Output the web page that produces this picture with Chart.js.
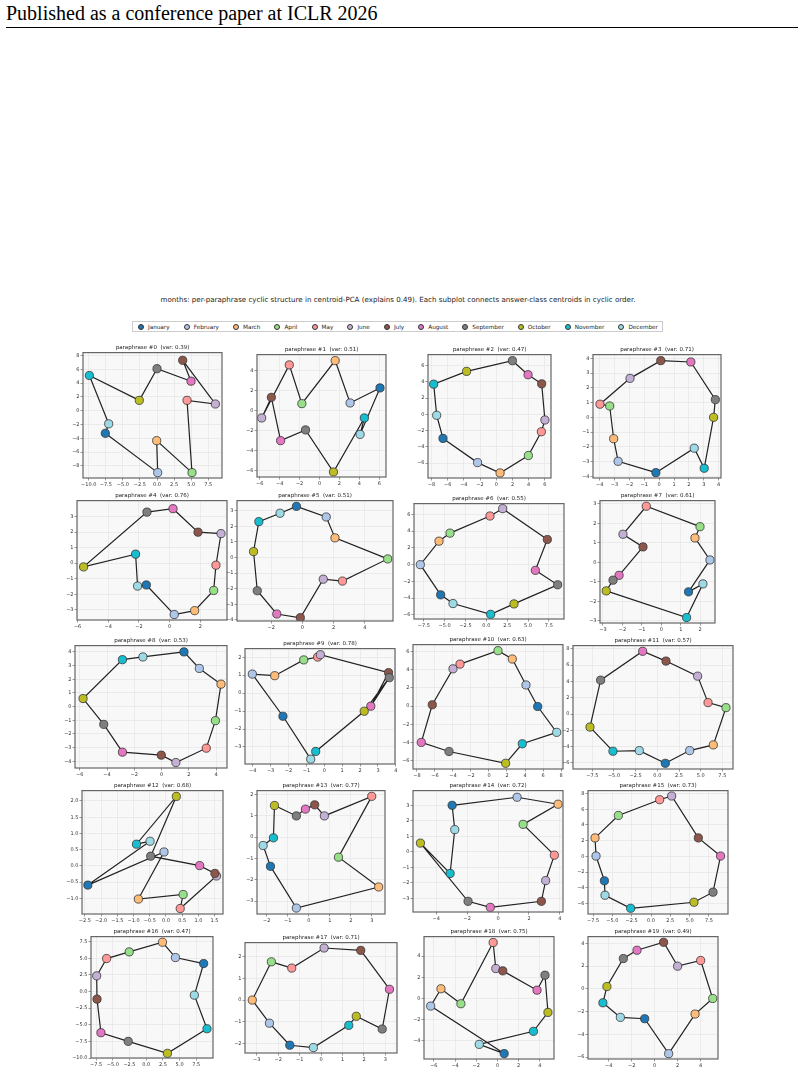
<!DOCTYPE html>
<html>
<head>
<meta charset="utf-8">
<script src="https://cdn.jsdelivr.net/npm/chart.js@4.4.1/dist/chart.umd.min.js"></script>
<style>
  body { margin: 0; width: 804px; height: 1074px; position: relative; background: #fff; overflow: hidden; font-family: "DejaVu Sans", sans-serif; }
  #hdr { position: absolute; left: 6px; top: 2px; font-family: "Liberation Serif", serif; font-size: 20px; color: #000; white-space: nowrap; }
  #rule { position: absolute; left: 6px; top: 27px; width: 792px; height: 1px; background: #000; }
  #suptitle { position: absolute; left: 0; width: 796px; top: 295px; text-align: center; font-size: 7.1px; color: #222; white-space: nowrap; }
  #legend { position: absolute; left: 132px; top: 321px; width: 531px; height: 11px; border: 1px solid #ccc; box-sizing: border-box;
            display: flex; align-items: center; justify-content: space-between; padding: 0 4px 0 5px; font-size: 5.7px; color: #222; }
  .li { display: flex; align-items: center; gap: 4px; white-space: nowrap; }
  .mk { width: 6px; height: 6px; border-radius: 50%; border: 0.7px solid #333; box-sizing: border-box; }
  canvas { position: absolute; }
</style>
</head>
<body>
<div id="hdr">Published as a conference paper at ICLR 2026</div>
<div id="rule"></div>
<div id="suptitle">months: per-paraphrase cyclic structure in centroid-PCA (explains 0.49). Each subplot connects answer-class centroids in cyclic order.</div>
<div id="legend"></div>
<script>
const months = ['January', 'February', 'March', 'April', 'May', 'June', 'July', 'August', 'September', 'October', 'November', 'December'];
const monthColors = ['#1f77b4', '#aec7e8', '#ffbb78', '#98df8a', '#ff9896', '#c5b0d5', '#8c564b', '#e377c2', '#7f7f7f', '#bcbd22', '#17becf', '#9edae5'];

const varExplained = [0.39, 0.51, 0.47, 0.71, 0.76, 0.51, 0.55, 0.61, 0.53, 0.78, 0.63, 0.57, 0.68, 0.77, 0.72, 0.73, 0.47, 0.71, 0.75, 0.49];

// centroid coordinates per paraphrase, January..December
const xVals = [
  [-7.56, 0.10, -0.05, 5.12, 4.39, 8.54, 3.76, 4.98, 0.00, -2.59, -9.90, -7.07],
  [6.07, 3.07, 1.57, -1.77, -3.03, -5.80, -4.83, -3.90, -1.40, 1.40, 4.50, 4.07],
  [-6.57, -2.31, 0.47, 3.96, 5.56, 6.00, 5.60, 3.92, 1.99, -3.66, -7.72, -7.35],
  [-0.22, -2.76, -3.06, -3.33, -3.98, -1.96, 0.11, 2.13, 3.78, 3.66, 3.03, 2.36],
  [-1.52, 0.30, 1.63, 2.87, 3.02, 3.35, 1.85, 0.22, -1.48, -5.61, -2.22, -2.09],
  [-0.38, 1.53, 2.09, 5.47, 2.57, 1.34, -0.13, -1.64, -2.89, -3.13, -2.79, -1.43],
  [-5.48, -7.92, -5.68, -4.36, 0.44, 1.96, 7.32, 5.88, 8.56, 3.32, 0.52, -4.00],
  [1.40, 2.50, 1.73, 1.99, -0.77, -1.97, -0.94, -2.17, -2.48, -2.83, 1.30, 2.14],
  [1.64, 2.77, 4.36, 3.95, 3.28, 1.05, -0.02, -2.87, -4.24, -5.76, -2.87, -1.37],
  [-2.31, -4.02, -2.77, -1.15, -0.37, -0.22, 3.59, 2.60, 3.63, 2.23, -0.48, -0.76],
  [5.41, 4.11, 2.59, 1.00, -3.22, -4.00, -6.30, -7.52, -4.44, 1.85, 3.70, 7.52],
  [0.92, 3.73, 6.46, 7.92, 5.85, 4.65, 1.00, -1.69, -6.54, -7.77, -5.12, -2.08],
  [-2.41, -0.06, -0.85, 0.53, 0.44, 1.56, 1.51, 1.04, -0.47, 0.32, -0.91, -0.49],
  [-1.82, -0.59, 3.32, 1.41, 2.99, 0.74, 0.28, -0.16, -0.59, -1.63, -1.68, -2.17],
  [-2.97, 1.23, 3.88, 1.62, 3.64, 3.08, 2.80, -0.50, -1.94, -5.02, -3.10, -2.80],
  [-6.03, -7.11, -7.24, -4.22, 1.12, 2.67, 6.12, 9.00, 8.02, 5.56, -2.63, -5.95],
  [8.60, 4.38, 2.44, -2.54, -5.92, -7.41, -7.36, -6.77, -2.69, 3.18, 9.10, 7.21],
  [-1.46, -2.41, -3.21, -2.32, -1.37, 0.14, 1.85, 3.19, 2.85, 1.64, 1.29, -0.36],
  [0.63, -6.30, -5.33, -3.45, -0.41, -0.16, 0.50, 3.73, 4.48, 4.76, 3.39, -1.72],
  [-0.87, 1.22, 3.52, 5.06, 4.01, 2.00, 0.78, -1.54, -2.73, -4.16, -4.51, -2.99]
];
const yVals = [
  [-3.27, -8.98, -4.34, -8.98, 1.51, 0.98, 7.32, 4.29, 6.10, 1.51, 5.12, -1.90],
  [2.27, 0.77, 5.00, 0.70, 4.57, -0.73, 1.33, -3.00, -1.93, -6.13, -0.73, -2.37],
  [-2.96, -5.93, -7.20, -5.06, -2.14, -0.70, 3.74, 4.86, 6.58, 5.27, 3.70, -0.12],
  [-3.75, -2.98, -1.45, 0.77, 0.89, 2.64, 3.84, 3.75, 1.20, 0.00, -3.45, -2.09],
  [-1.40, -3.30, -3.05, -1.75, -0.13, 1.90, 1.99, 3.50, 3.28, -0.24, 0.58, -1.47],
  [3.28, 2.60, 1.26, -0.09, -1.51, -1.39, -3.86, -3.62, -2.13, 0.38, 2.30, 2.84],
  [-3.60, 0.00, 2.80, 3.76, 5.80, 6.68, 3.00, -0.68, -2.40, -4.68, -5.92, -4.64],
  [-1.52, 0.12, 1.25, 1.83, 2.88, 1.44, 0.79, -0.67, -0.92, -1.47, -2.84, -1.11],
  [4.00, 2.79, 1.64, -1.03, -3.04, -4.09, -3.55, -3.33, -1.30, 0.59, 3.43, 3.63],
  [-1.29, 1.06, 0.97, 1.85, 2.01, 2.14, 1.14, -0.73, 0.86, -1.01, -3.25, -3.68],
  [-0.04, 2.33, 5.19, 6.11, 4.63, 4.11, 0.15, -4.00, -5.00, -6.30, -4.15, -2.89],
  [-6.05, -4.49, -3.79, 0.78, 1.40, 4.65, 6.50, 7.70, 4.16, -1.60, -4.57, -4.49],
  [-0.59, 0.43, -1.02, -0.88, -1.31, -0.31, -0.23, 0.01, 0.30, 2.14, 0.67, 0.76],
  [-1.37, -3.33, -2.34, -0.94, 1.92, 1.00, 1.52, 1.32, 1.00, 1.49, -0.03, -0.39],
  [3.00, 3.52, 3.07, 1.77, -0.22, -1.86, -3.20, -3.59, -3.20, 0.56, -1.40, 1.43],
  [-3.12, 0.04, 2.35, 5.21, 7.22, 7.69, 2.35, 0.04, -4.57, -5.85, -6.62, -4.96],
  [4.20, 5.10, 7.40, 5.95, 4.95, 2.35, -1.15, -6.20, -7.50, -9.30, -5.60, -0.55],
  [-2.09, -1.07, 0.00, 1.77, 1.48, 2.41, 2.30, 0.50, -1.34, -0.75, -1.17, -2.20],
  [-5.20, -0.72, 0.91, -0.50, 5.27, 2.82, 2.60, 0.78, 2.19, -1.32, -3.10, -4.33],
  [-2.63, -5.70, -2.22, -0.85, 2.49, 1.99, 4.09, 3.39, 2.66, 0.20, -1.23, -2.51]
];

// tick labels per subplot
const xTicks = [
  [-10, -7.5, -5, -2.5, 0, 2.5, 5, 7.5], [-6, -4, -2, 0, 2, 4, 6], [-8, -6, -4, -2, 0, 2, 4, 6], [-4, -3, -2, -1, 0, 1, 2, 3, 4],
  [-6, -4, -2, 0, 2], [-2, 0, 2, 4], [-7.5, -5, -2.5, 0, 2.5, 5, 7.5], [-3, -2, -1, 0, 1, 2],
  [-6, -4, -2, 0, 2, 4], [-4, -3, -2, -1, 0, 1, 2, 3, 4], [-8, -6, -4, -2, 0, 2, 4, 6, 8], [-7.5, -5, -2.5, 0, 2.5, 5, 7.5],
  [-2.5, -2, -1.5, -1, -0.5, 0, 0.5, 1, 1.5], [-2, -1, 0, 1, 2, 3], [-4, -2, 0, 2, 4], [-7.5, -5, -2.5, 0, 2.5, 5, 7.5],
  [-7.5, -5, -2.5, 0, 2.5, 5, 7.5], [-3, -2, -1, 0, 1, 2, 3], [-6, -4, -2, 0, 2, 4], [-4, -2, 0, 2, 4]
];
const yTicks = [
  [-8, -6, -4, -2, 0, 2, 4, 6, 8], [-6, -4, -2, 0, 2, 4], [-6, -4, -2, 0, 2, 4, 6], [-4, -3, -2, -1, 0, 1, 2, 3, 4],
  [-3, -2, -1, 0, 1, 2, 3], [-4, -3, -2, -1, 0, 1, 2, 3], [-6, -4, -2, 0, 2, 4, 6], [-3, -2, -1, 0, 1, 2, 3],
  [-4, -3, -2, -1, 0, 1, 2, 3, 4], [-3, -2, -1, 0, 1, 2], [-6, -4, -2, 0, 2, 4, 6], [-6, -4, -2, 0, 2, 4, 6, 8],
  [-1, -0.5, 0, 0.5, 1, 1.5, 2], [-3, -2, -1, 0, 1, 2], [-3, -2, -1, 0, 1, 2, 3], [-6, -4, -2, 0, 2, 4, 6, 8],
  [-10, -7.5, -5, -2.5, 0, 2.5, 5, 7.5], [-2, -1, 0, 1, 2], [-4, -2, 0, 2, 4], [-6, -4, -2, 0, 2, 4]
];

// axis limits [xmin, xmax, ymin, ymax]
const limits = [
  [-10.83, 9.51, -9.76, 8.44], [-6.27, 6.67, -6.63, 5.6], [-8.42, 6.75, -7.82, 7.33], [-4.45, 4.16, -4.11, 4.25],
  [-6.04, 3.74, -3.65, 4.02], [-4.19, 5.81, -4.07, 3.65], [-8.68, 9.32, -6.48, 7.28], [-3.15, 2.76, -3.12, 3.17],
  [-6.35, 4.8, -4.49, 4.46], [-4.43, 3.95, -3.95, 2.48], [-8.44, 8.22, -6.93, 6.78], [-9.73, 8.73, -6.75, 8.4],
  [-2.59, 1.76, -1.48, 2.32], [-2.46, 3.62, -3.61, 2.19], [-5.5, 4.2, -3.89, 3.95], [-8.15, 9.96, -7.35, 8.38],
  [-8.26, 10.0, -10.0, 8.25], [-3.55, 3.54, -2.45, 2.66], [-6.93, 5.33, -5.71, 5.83], [-5.81, 5.52, -6.17, 4.59]
];

// plot-area boxes on the page [left, top, right, bottom]
const boxes = [
  [83, 353, 222, 478], [257, 355, 386, 477], [428, 355, 551, 478], [593, 355, 721, 478],
  [77, 501, 227, 620], [237, 501, 393, 621], [414, 504, 564, 619], [600, 501, 715, 623],
  [75, 646, 227, 768], [245, 649, 395, 764], [413, 645, 563, 769], [573, 646, 733, 769],
  [82, 791, 223, 914], [257, 791, 385, 914], [413, 791, 563, 912], [588, 791, 728, 914],
  [91, 937, 213, 1058], [245, 943, 397, 1053], [424, 937, 554, 1059], [588, 937, 718, 1059]
];

// legend
const legendEl = document.getElementById('legend');
months.forEach((m, i) => {
  const item = document.createElement('div');
  item.className = 'li';
  item.innerHTML = '<span class="mk" style="background:' + monthColors[i] + '"></span><span>' + m + '</span>';
  legendEl.appendChild(item);
});

const frame = {
  id: 'frame',
  beforeDraw(chart) {
    const a = chart.chartArea, ctx = chart.ctx;
    ctx.save();
    ctx.fillStyle = '#f8f8f8';
    ctx.fillRect(a.left, a.top, a.right - a.left, a.bottom - a.top);
    ctx.restore();
  },
  afterDraw(chart) {
    const a = chart.chartArea, ctx = chart.ctx;
    ctx.save();
    ctx.strokeStyle = '#666';
    ctx.lineWidth = 1.2;
    ctx.strokeRect(a.left, a.top, a.right - a.left, a.bottom - a.top);
    ctx.restore();
  }
};

function tickFormat(ticks) {
  const frac = ticks.some(v => !Number.isInteger(v));
  return v => (frac ? v.toFixed(1) : String(v)).replace('-', '\u2212');
}

const YW = 22, XH = 10, PR = 10;
const TITLE_SIZE = 5.5, TITLE_PAD = 2;
const titleH = TITLE_SIZE * 1.2 + TITLE_PAD;

const axisCommon = {
  type: 'linear',
  border: { display: false },
  grid: { color: '#e2e2e2', lineWidth: 0.6, tickLength: 2.5, tickColor: '#555', tickWidth: 0.6 },
  ticks: { font: { size: 5, family: 'DejaVu Sans' }, color: '#333', padding: 1, maxRotation: 0, autoSkip: false }
};

for (let i = 0; i < 20; i++) {
  const [bl, bt, br, bb] = boxes[i];
  const [x0, x1, y0, y1] = limits[i];
  const canvas = document.createElement('canvas');
  const top = Math.round(bt - titleH);
  canvas.width = (br - bl) + YW + PR;
  canvas.height = (bb - top) + XH;
  canvas.style.left = (bl - YW) + 'px';
  canvas.style.top = top + 'px';
  document.body.appendChild(canvas);

  const pts = xVals[i].map((x, k) => ({ x: x, y: yVals[i][k] }));
  const xt = xTicks[i], yt = yTicks[i];

  new Chart(canvas, {
    type: 'scatter',
    data: {
      datasets: [
        { data: pts, pointBackgroundColor: monthColors, pointBorderColor: '#333', pointBorderWidth: 0.8, pointRadius: 4.1, showLine: false, order: 0 },
        { data: pts.concat([pts[0]]), showLine: true, borderColor: '#222', borderWidth: 1.2, pointRadius: 0, order: 1 }
      ]
    },
    options: {
      responsive: false,
      animation: false,
      events: [],
      layout: { padding: { left: 0, right: PR, top: 0, bottom: 0 } },
      plugins: {
        legend: { display: false },
        tooltip: { enabled: false },
        title: {
          display: true,
          text: 'paraphrase #' + i + '  (var: ' + varExplained[i].toFixed(2) + ')',
          fullSize: false,
          color: '#222',
          font: { size: TITLE_SIZE, family: 'DejaVu Sans', weight: 'normal' },
          padding: { top: 0, bottom: TITLE_PAD }
        }
      },
      scales: {
        x: Object.assign({}, axisCommon, {
          min: x0, max: x1,
          afterBuildTicks: s => { s.ticks = xt.map(v => ({ value: v })); },
          afterFit: s => { s.height = XH; },
          ticks: Object.assign({}, axisCommon.ticks, { callback: tickFormat(xt) })
        }),
        y: Object.assign({}, axisCommon, {
          min: y0, max: y1,
          afterBuildTicks: s => { s.ticks = yt.map(v => ({ value: v })); },
          afterFit: s => { s.width = YW; },
          ticks: Object.assign({}, axisCommon.ticks, { callback: tickFormat(yt) })
        })
      }
    },
    plugins: [frame]
  });
}
</script>
</body>
</html>
